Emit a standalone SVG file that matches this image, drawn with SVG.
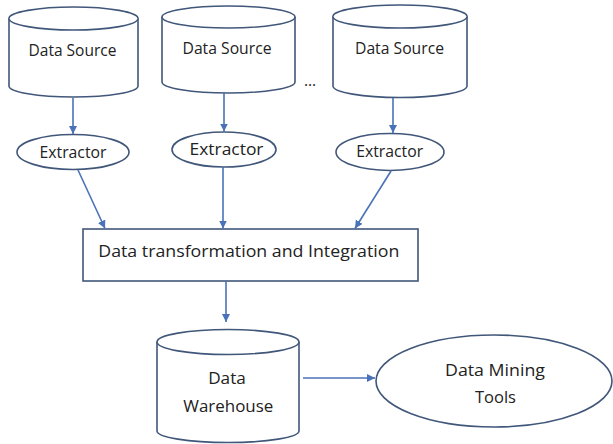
<svg xmlns="http://www.w3.org/2000/svg" width="613" height="444" viewBox="0 0 613 444">
<defs>
<style>
.shape{fill:#fff;stroke:#41577a;stroke-width:1.6}
.lbl{font-family:"Open Sans","Liberation Sans","DejaVu Sans",sans-serif;font-size:15.5px;fill:#222;text-anchor:middle}
.big{font-size:17px}
.conn line{stroke:#4a72b8;stroke-width:1.6;fill:none}
</style>
<marker id="ah" viewBox="0 0 10 10" refX="10" refY="5" markerWidth="8" markerHeight="8" markerUnits="userSpaceOnUse" orient="auto">
<path d="M0,0 L10,5 L0,10 z" fill="#4a72b8"/>
</marker>
</defs>
<rect width="613" height="444" fill="#fff"/>
<g id="ds1">
<path class="shape" d="M9,18.5 A64.5,11.5 0 0 1 138,18.5 V86 A64.5,11 0 0 1 9,86 Z"/>
<path class="shape" fill="none" d="M9,18.5 A64.5,11.5 0 0 0 138,18.5"/>
<text class="lbl" x="72.5" y="55.5" textLength="88" lengthAdjust="spacingAndGlyphs">Data Source</text>
</g>
<g id="ds2">
<path class="shape" d="M162,17 A66.5,11 0 0 1 295,17 V82 A66.5,11 0 0 1 162,82 Z"/>
<path class="shape" fill="none" d="M162,17 A66.5,11 0 0 0 295,17"/>
<text class="lbl" x="227" y="53.5" textLength="89" lengthAdjust="spacingAndGlyphs">Data Source</text>
</g>
<text class="lbl" x="310" y="86">...</text>
<g id="ds3">
<path class="shape" d="M333,16.5 A67,11.5 0 0 1 467,16.5 V86 A67,11.5 0 0 1 333,86 Z"/>
<path class="shape" fill="none" d="M333,16.5 A67,11.5 0 0 0 467,16.5"/>
<text class="lbl" x="399.5" y="53.5" textLength="89" lengthAdjust="spacingAndGlyphs">Data Source</text>
</g>
<g id="ex1">
<ellipse class="shape" cx="73" cy="152" rx="56" ry="17.5"/>
<text class="lbl" x="73" y="158" textLength="67" lengthAdjust="spacingAndGlyphs">Extractor</text>
</g>
<g id="ex2">
<ellipse class="shape" cx="224" cy="149.5" rx="52" ry="17.5"/>
<text class="lbl big" x="226.5" y="155" textLength="74" lengthAdjust="spacingAndGlyphs">Extractor</text>
</g>
<g id="ex3">
<ellipse class="shape" cx="390" cy="152" rx="54" ry="18.5"/>
<text class="lbl" x="389.7" y="156.5" textLength="67" lengthAdjust="spacingAndGlyphs">Extractor</text>
</g>
<g id="dti">
<rect class="shape" x="83" y="229" width="335" height="52"/>
<text class="lbl big" x="248.8" y="256.7" textLength="301" lengthAdjust="spacingAndGlyphs">Data transformation and Integration</text>
</g>
<g id="dw">
<path class="shape" d="M157,342 A71,12.5 0 0 1 299,342 V431 A71,11.5 0 0 1 157,431 Z"/>
<path class="shape" fill="none" d="M157,342 A71,12.5 0 0 0 299,342"/>
<text class="lbl big" x="227" y="384" textLength="37.7" lengthAdjust="spacingAndGlyphs">Data</text>
<text class="lbl big" x="228.3" y="412.3" textLength="90" lengthAdjust="spacingAndGlyphs">Warehouse</text>
</g>
<g id="dmt">
<ellipse class="shape" cx="494" cy="381" rx="118" ry="46"/>
<text class="lbl big" x="495" y="375.5" textLength="100" lengthAdjust="spacingAndGlyphs">Data Mining</text>
<text class="lbl big" x="495.5" y="403.3" textLength="41" lengthAdjust="spacingAndGlyphs">Tools</text>
</g>
<g class="conn" id="connectors">
<line x1="73" y1="98" x2="73" y2="134" marker-end="url(#ah)"/>
<line x1="224" y1="93" x2="224" y2="131.5" marker-end="url(#ah)"/>
<line x1="393" y1="98" x2="393" y2="133" marker-end="url(#ah)"/>
<line x1="78" y1="170" x2="105" y2="228.5" marker-end="url(#ah)"/>
<line x1="223" y1="167" x2="223" y2="228.5" marker-end="url(#ah)"/>
<line x1="391" y1="171" x2="355" y2="228.5" marker-end="url(#ah)"/>
<line x1="226" y1="281" x2="226" y2="322" marker-end="url(#ah)"/>
<line x1="303" y1="378" x2="375" y2="378" marker-end="url(#ah)"/>
</g>
</svg>
